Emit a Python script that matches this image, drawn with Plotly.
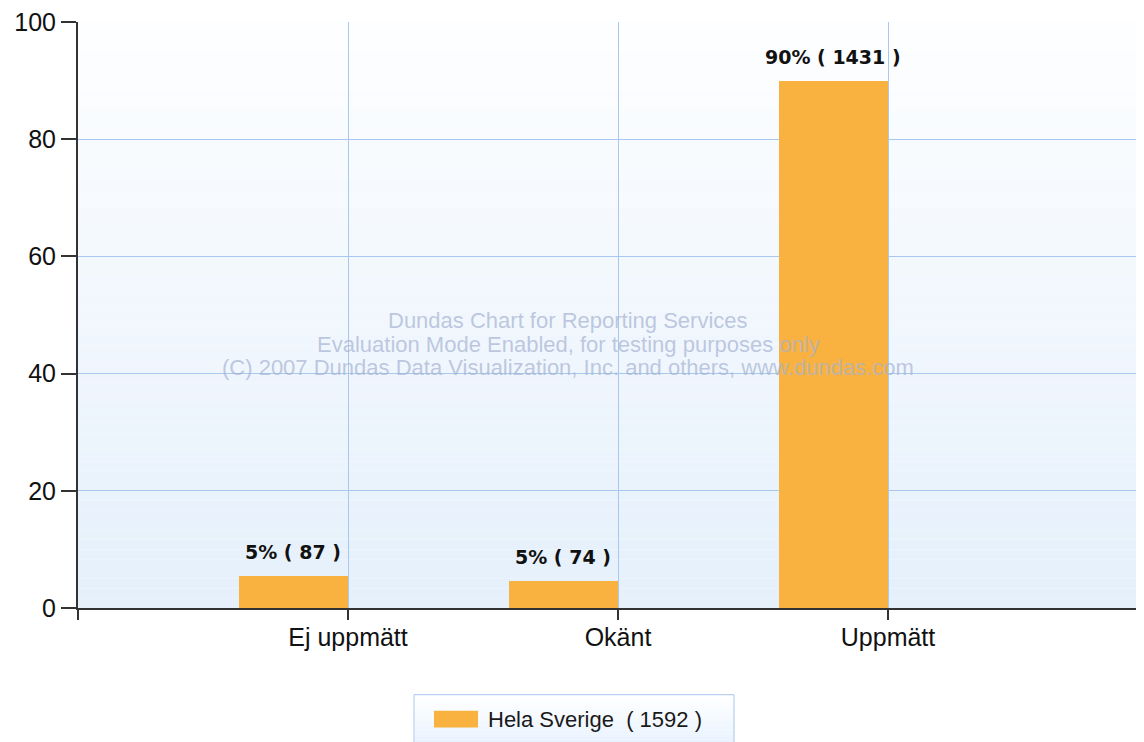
import plotly.graph_objects as go

categories = ["Ej uppmätt", "Okänt", "Uppmätt"]
percent_values = [5.5, 4.6, 89.9]
counts = [87, 74, 1431]
percent_labels = ["5%", "5%", "90%"]
series_name = "Hela Sverige"
series_total = 1592
y_ticks = [0, 20, 40, 60, 80, 100]
watermark_lines = [
    "Dundas Chart for Reporting Services",
    "Evaluation Mode Enabled, for testing purposes only",
    "(C) 2007 Dundas Data Visualization, Inc. and others, www.dundas.com",
]

BAR_COLOR = "#F9B23F"
GRID = "#A9C8F0"
AXIS = "#333333"
FONT = "Liberation Sans"
BAR_W = 0.404

x_pos = list(range(len(categories)))
labels = [f"{p} ( {c} )" for p, c in zip(percent_labels, counts)]

fig = go.Figure()

fig.add_trace(go.Bar(
    x=x_pos, y=percent_values, name=series_name,
    offset=-BAR_W, width=BAR_W,
    marker=dict(color=BAR_COLOR, line=dict(width=0)),
    cliponaxis=False, showlegend=False,
))

# bar value labels
for xp, v, lab in zip(x_pos, percent_values, labels):
    fig.add_annotation(
        x=xp - BAR_W / 2, y=v, xref="x", yref="y", showarrow=False,
        xanchor="center", yanchor="bottom", yshift=11, text=lab,
        font=dict(family="DejaVu Sans", size=19, color="#111111", weight="bold"),
    )

# screen-pixel helpers (page has an 8px body margin)
W, H = 1074, 588
def px(x):
    return (x - 78) / W
def py(y):
    return (608 - y) / H

# gradient plot background
n = 60
top = (253, 254, 255)
bot = (229, 240, 251)
for i in range(n):
    t = i / (n - 1)
    c = tuple(int(round(top[k] + (bot[k] - top[k]) * t)) for k in range(3))
    fig.add_shape(type="rect", xref="x domain", yref="y domain",
                  x0=0, x1=1, y0=1 - (i + 1) / n, y1=1 - i / n,
                  fillcolor=f"rgb{c}", line=dict(width=0), layer="below")

# watermark
for line, yc in zip(watermark_lines, [320, 344, 367]):
    fig.add_annotation(
        x=px(568), y=py(yc), xref="paper", yref="paper", showarrow=False,
        xanchor="center", yanchor="middle", text=line,
        font=dict(family=FONT, size=22, color="rgba(165,178,210,0.7)"),
    )

# manual legend
for i in range(20):
    t = i / 19
    cc = (int(round(255 + (232 - 255) * t)), int(round(255 + (242 - 255) * t)), 255)
    fig.add_shape(type="rect", xref="paper", yref="paper",
                  x0=px(415), x1=px(734), y0=py(695 + (i + 1) * 2.5), y1=py(695 + i * 2.5),
                  fillcolor=f"rgb{cc}", line=dict(width=0), layer="below")
fig.add_shape(type="rect", xref="paper", yref="paper",
              x0=px(414), x1=px(734), y0=py(760), y1=py(695),
              line=dict(color="#A9C6EE", width=1), fillcolor="rgba(0,0,0,0)")
fig.add_shape(type="rect", xref="paper", yref="paper",
              x0=px(434), x1=px(478), y0=py(728), y1=py(711),
              line=dict(width=0), fillcolor=BAR_COLOR)
fig.add_annotation(x=px(486), y=py(719.5), xref="paper", yref="paper",
                   xanchor="left", yanchor="middle", showarrow=False,
                   text=f"{series_name}  ( {series_total} )",
                   font=dict(family=FONT, size=22, color="#1a1a1a"))

fig.update_layout(
    width=1144, height=742,
    margin=dict(l=70, r=0, t=12, b=142),
    paper_bgcolor="white", plot_bgcolor="white",
    font=dict(family=FONT, size=25, color="#111111"),
    xaxis=dict(
        range=[-1, -1 + W / 270], tickvals=[-1] + x_pos, ticktext=[""] + categories,
        showgrid=True, gridcolor=GRID, gridwidth=1,
        showline=True, linecolor=AXIS, linewidth=2,
        ticks="outside", ticklen=10, tickwidth=2, tickcolor=AXIS,
        tickfont=dict(family=FONT, size=25, color="#111111"),
        ticklabelstandoff=-4,
        zeroline=False,
    ),
    yaxis=dict(
        range=[0, 100], tickvals=y_ticks,
        showgrid=True, gridcolor=GRID, gridwidth=1,
        showline=True, linecolor=AXIS, linewidth=2,
        ticks="outside", ticklen=15, tickwidth=2, tickcolor=AXIS,
        tickfont=dict(family=FONT, size=25, color="#111111"),
        ticklabeloverflow="allow",
        zeroline=False,
    ),
    bargap=0,
)

fig.write_html("out.html")
